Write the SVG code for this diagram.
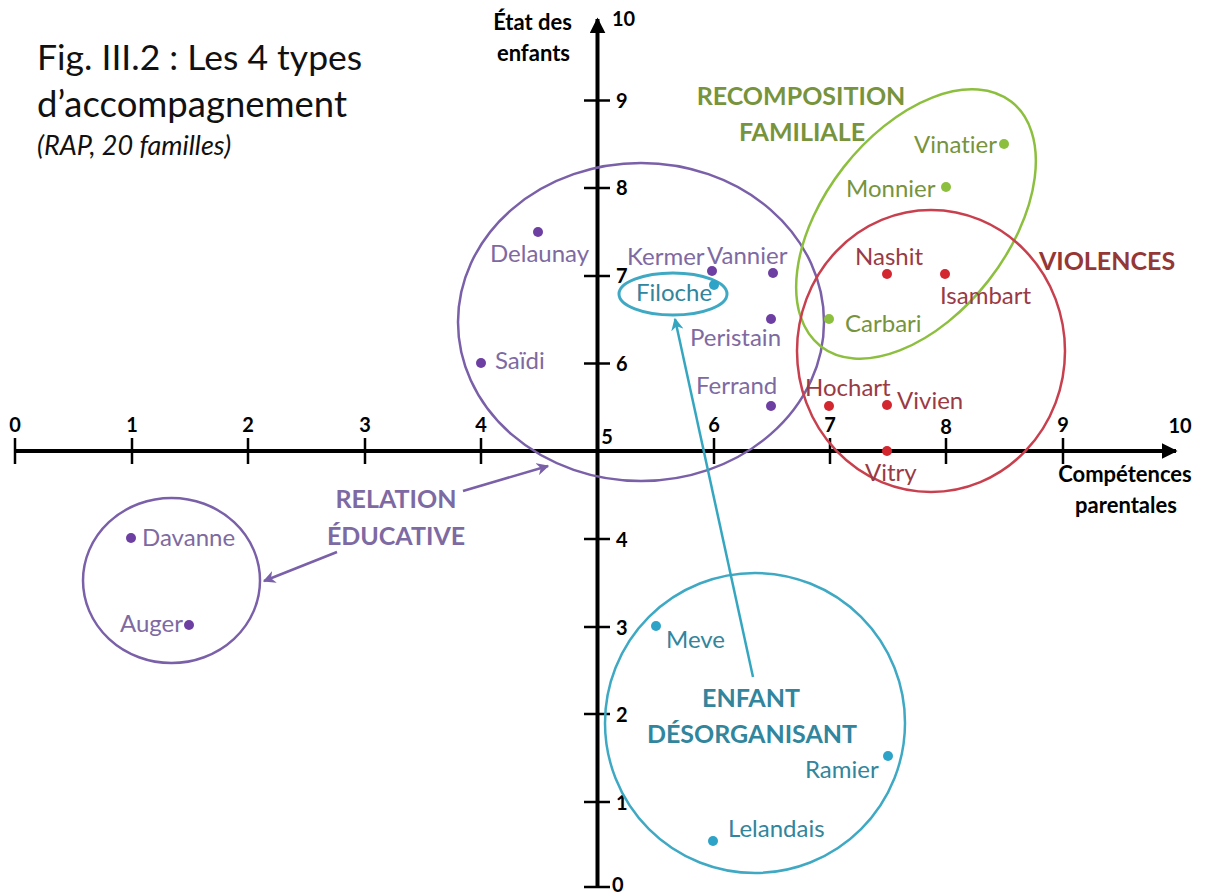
<svg xmlns="http://www.w3.org/2000/svg" width="1207" height="896" viewBox="0 0 1207 896">
<defs>
<marker id="ah-black" viewBox="0 0 10 10" refX="9" refY="5" markerWidth="4" markerHeight="4" orient="auto" markerUnits="strokeWidth"><path d="M0,0 L10,5 L0,10 z" fill="#000"/></marker>
<marker id="ah-purple" viewBox="0 0 10 10" refX="9" refY="5" markerWidth="5" markerHeight="5" orient="auto" markerUnits="strokeWidth"><path d="M0,0 L10,5 L0,10 L3,5 z" fill="#7a60a8"/></marker>
<marker id="ah-cyan" viewBox="0 0 10 10" refX="9" refY="5" markerWidth="5" markerHeight="5" orient="auto" markerUnits="strokeWidth"><path d="M0,0 L10,5 L0,10 L3,5 z" fill="#35a6c0"/></marker>
<style>
text{font-family:Lato,"Liberation Sans",sans-serif;font-variant-ligatures:none;}
.tick{stroke:#000;stroke-width:2.5;}
.tl{font-weight:bold;font-size:20px;fill:#000;}
.ax{font-weight:bold;font-size:22px;fill:#000;}
.lbl{font-size:24px;}
.pu{fill:#7e6aa2;}
.gr{fill:#77933c;}
.rd{fill:#9a3a44;}
.cy{fill:#31859c;}
.dpu{fill:#6d3fa3;}
.dgr{fill:#8dbf3f;}
.drd{fill:#d3272f;}
.dcy{fill:#2ea3c8;}
.grp{font-weight:bold;font-size:25px;}
</style>
</defs>
<rect width="1207" height="896" fill="#fff"/>

<g id="title">
<text x="37" y="70" font-size="35.5" fill="#111">Fig. III.2 : Les 4 types</text>
<text x="37" y="117" font-size="36.5" fill="#111">d’accompagnement</text>
<text x="37" y="155" font-size="27" font-style="italic" fill="#111">(RAP, 20 familles)</text>
</g>

<g id="axes">
<line x1="14" y1="451" x2="1176" y2="451" stroke="#000" stroke-width="4" marker-end="url(#ah-black)"/>
<line x1="597.5" y1="887" x2="597.5" y2="19" stroke="#000" stroke-width="4" marker-end="url(#ah-black)"/>
<line class="tick" x1="15" y1="438" x2="15" y2="464"/>
<line class="tick" x1="132" y1="438" x2="132" y2="464"/>
<line class="tick" x1="248" y1="438" x2="248" y2="464"/>
<line class="tick" x1="365" y1="438" x2="365" y2="464"/>
<line class="tick" x1="481" y1="438" x2="481" y2="464"/>
<line class="tick" x1="714" y1="438" x2="714" y2="464"/>
<line class="tick" x1="830" y1="438" x2="830" y2="464"/>
<line class="tick" x1="946" y1="438" x2="946" y2="464"/>
<line class="tick" x1="1063" y1="438" x2="1063" y2="464"/>
<line class="tick" x1="584" y1="100.5" x2="610" y2="100.5"/>
<line class="tick" x1="584" y1="188" x2="610" y2="188"/>
<line class="tick" x1="584" y1="276" x2="610" y2="276"/>
<line class="tick" x1="584" y1="363.5" x2="610" y2="363.5"/>
<line class="tick" x1="584" y1="539" x2="610" y2="539"/>
<line class="tick" x1="584" y1="627" x2="610" y2="627"/>
<line class="tick" x1="584" y1="714" x2="610" y2="714"/>
<line class="tick" x1="584" y1="802" x2="610" y2="802"/>
<line class="tick" x1="584" y1="887" x2="610" y2="887"/>
<text class="tl" x="15" y="432" text-anchor="middle">0</text>
<text class="tl" x="132" y="432" text-anchor="middle">1</text>
<text class="tl" x="248" y="432" text-anchor="middle">2</text>
<text class="tl" x="365" y="432" text-anchor="middle">3</text>
<text class="tl" x="481" y="432" text-anchor="middle">4</text>
<text class="tl" x="607" y="444" text-anchor="middle">5</text>
<text class="tl" x="714" y="432" text-anchor="middle">6</text>
<text class="tl" x="830" y="432" text-anchor="middle">7</text>
<text class="tl" x="946" y="434" text-anchor="middle">8</text>
<text class="tl" x="1063" y="432" text-anchor="middle">9</text>
<text class="tl" x="1180" y="433" text-anchor="middle">10</text>
<text class="tl" x="612" y="26">10</text>
<text class="tl" x="616" y="108">9</text>
<text class="tl" x="616" y="195">8</text>
<text class="tl" x="616" y="283">7</text>
<text class="tl" x="616" y="371">6</text>
<text class="tl" x="616" y="547">4</text>
<text class="tl" x="616" y="635">3</text>
<text class="tl" x="616" y="722">2</text>
<text class="tl" x="616" y="810">1</text>
<text class="tl" x="612" y="892">0</text>
<text class="ax" x="572" y="30" text-anchor="end">État des</text>
<text class="ax" x="570" y="61" text-anchor="end">enfants</text>
<text class="ax" x="1125" y="482" text-anchor="middle">Compétences</text>
<text class="ax" x="1126" y="513" text-anchor="middle">parentales</text>
</g>

<g id="relation-educative" fill="none" stroke="#7a60a8" stroke-width="2.5">
<ellipse cx="641" cy="322" rx="183" ry="159"/>
<ellipse cx="171.5" cy="580.5" rx="88.5" ry="82.5"/>
</g>
<g id="recomposition" fill="none" stroke="#8dbf3f" stroke-width="2.5">
<ellipse cx="916" cy="224" rx="155" ry="92" transform="rotate(-52 916 224)"/>
</g>
<g id="violences" fill="none" stroke="#c8404e" stroke-width="2.5">
<ellipse cx="931" cy="351" rx="134" ry="141"/>
</g>
<g id="enfant-desorganisant" fill="none" stroke="#3fa9c4" stroke-width="2.5">
<ellipse cx="755" cy="723" rx="150" ry="150"/>
<ellipse cx="673" cy="294" rx="54" ry="21" stroke-width="3"/>
</g>

<g id="connectors" fill="none" stroke-width="2.5">
<line x1="463" y1="491" x2="548" y2="466" stroke="#7a60a8" marker-end="url(#ah-purple)"/>
<line x1="337" y1="552" x2="264" y2="581" stroke="#7a60a8" marker-end="url(#ah-purple)"/>
<line x1="753" y1="677" x2="675" y2="319" stroke="#35a6c0" marker-end="url(#ah-cyan)"/>
</g>

<g id="group-labels">
<text class="grp gr" x="801" y="105" text-anchor="middle">RECOMPOSITION</text>
<text class="grp gr" x="802" y="141" text-anchor="middle">FAMILIALE</text>
<text class="grp" x="1107" y="270" text-anchor="middle" fill="#953735">VIOLENCES</text>
<text class="grp pu" x="396" y="508" text-anchor="middle">RELATION</text>
<text class="grp pu" x="396" y="545" text-anchor="middle">ÉDUCATIVE</text>
<text class="grp cy" x="751" y="707" text-anchor="middle">ENFANT</text>
<text class="grp cy" x="752" y="743" text-anchor="middle">DÉSORGANISANT</text>
</g>

<g id="p-delaunay"><circle class="dpu" cx="538" cy="232" r="5"/><text class="lbl pu" x="490" y="262">Delaunay</text></g>
<g id="p-saidi"><circle class="dpu" cx="481" cy="363" r="5"/><text class="lbl pu" x="495" y="369">Saïdi</text></g>
<g id="p-kermer"><circle class="dpu" cx="712" cy="271" r="5"/><text class="lbl pu" x="627" y="265">Kermer</text></g>
<g id="p-vannier"><circle class="dpu" cx="773" cy="273" r="5"/><text class="lbl pu" x="707" y="264">Vannier</text></g>
<g id="p-filoche"><circle class="dcy" cx="714" cy="285" r="5"/><text class="lbl cy" x="636" y="301">Filoche</text></g>
<g id="p-peristain"><circle class="dpu" cx="771" cy="319" r="5"/><text class="lbl pu" x="690" y="346">Peristain</text></g>
<g id="p-ferrand"><circle class="dpu" cx="771" cy="406" r="5"/><text class="lbl pu" x="696" y="394">Ferrand</text></g>
<g id="p-davanne"><circle class="dpu" cx="131" cy="538" r="5"/><text class="lbl pu" x="142" y="546">Davanne</text></g>
<g id="p-auger"><circle class="dpu" cx="189" cy="625" r="5"/><text class="lbl pu" x="120" y="632">Auger</text></g>
<g id="p-vinatier"><circle class="dgr" cx="1004" cy="144" r="5"/><text class="lbl gr" x="914" y="153">Vinatier</text></g>
<g id="p-monnier"><circle class="dgr" cx="946" cy="187" r="5"/><text class="lbl gr" x="846" y="197">Monnier</text></g>
<g id="p-carbari"><circle class="dgr" cx="829" cy="319" r="5"/><text class="lbl gr" x="845" y="332">Carbari</text></g>
<g id="p-nashit"><circle class="drd" cx="887" cy="274" r="5"/><text class="lbl rd" x="855" y="265">Nashit</text></g>
<g id="p-isambart"><circle class="drd" cx="945" cy="274" r="5"/><text class="lbl rd" x="940" y="304">Isambart</text></g>
<g id="p-hochart"><circle class="drd" cx="829" cy="406" r="5"/><text class="lbl rd" x="805" y="396">Hochart</text></g>
<g id="p-vivien"><circle class="drd" cx="887" cy="405" r="5"/><text class="lbl rd" x="897" y="409">Vivien</text></g>
<g id="p-vitry"><circle class="drd" cx="887" cy="451" r="5"/><text class="lbl rd" x="865" y="481">Vitry</text></g>
<g id="p-meve"><circle class="dcy" cx="656" cy="626" r="5"/><text class="lbl cy" x="666" y="648">Meve</text></g>
<g id="p-ramier"><circle class="dcy" cx="888" cy="756" r="5"/><text class="lbl cy" x="805" y="778">Ramier</text></g>
<g id="p-lelandais"><circle class="dcy" cx="713" cy="841" r="5"/><text class="lbl cy" x="728" y="837">Lelandais</text></g>
</svg>
